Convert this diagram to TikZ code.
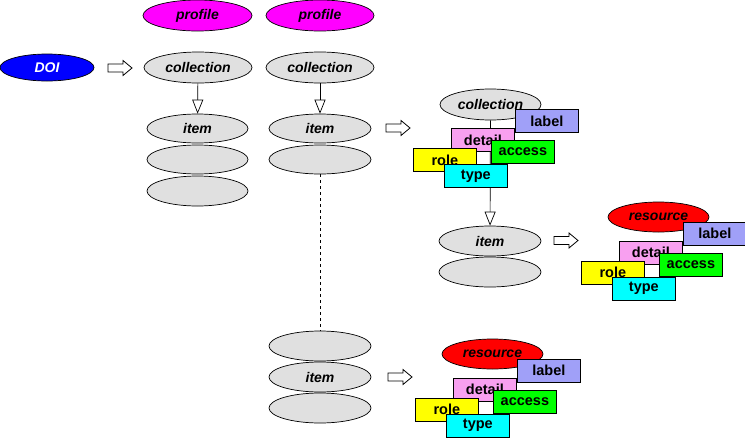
\documentclass[tikz,border=0pt]{standalone}
\usepackage{fontspec}
\setmainfont{Liberation Sans}
\usetikzlibrary{shapes.geometric,arrows.meta}
\definecolor{ellgrey}{RGB}{224,224,224}
\definecolor{lbl}{RGB}{160,160,248}
\definecolor{dtl}{RGB}{248,160,240}
\definecolor{mymag}{RGB}{255,0,255}
\definecolor{mycyan}{RGB}{0,255,255}
\definecolor{myblue}{RGB}{0,0,255}
\definecolor{myred}{RGB}{255,0,0}
\definecolor{mygreen}{RGB}{0,255,0}
\definecolor{myyellow}{RGB}{255,255,0}
\tikzset{
  ell/.style={ellipse, draw, line width=0.7pt, inner sep=0pt, minimum width=102pt, minimum height=30pt,
    font=\fontsize{14}{16}\selectfont\bfseries\itshape},
  grey/.style={ell, fill=ellgrey},
  attr/.style={rectangle, draw, line width=0.8pt, minimum width=63pt, minimum height=23pt, inner sep=0pt,
    anchor=north west, font=\fontsize{14.5}{16}\selectfont\bfseries},
  flow/.style={draw, line width=0.7pt, -{Triangle[length=14pt,width=11pt,fill=white]}},
  blk/.style={draw, fill=white, line width=0.8pt, line join=miter},
}
\newcommand\blkarrow[2]{%
  \begin{scope}[shift={(#1,#2)}]
    \draw[blk] (0,-4) -- (15,-4) -- (15,-7.5) -- (24,0) -- (15,7.5) -- (15,4) -- (0,4) -- cycle;
  \end{scope}}
\newcommand\attrs[3]{%
  \node[attr, fill=lbl] (#1label) at (#2+24.5,#3+4.5) {label};
  \node[attr, fill=dtl] (#1detail) at (#2-39.5,#3+23.5) {detail};
  \node[attr, fill=mygreen] (#1access) at (#2+0.5,#3+35.5) {access};
  \node[attr, fill=myyellow] (#1role) at (#2-77.5,#3+43.5) {role};
  \node[attr, fill=mycyan] (#1type) at (#2-46.5,#3+59.5) {type};}
\begin{document}
\begin{tikzpicture}[x=1pt, y=-1pt]
\useasboundingbox (0,0) rectangle (745,437);
% profiles
\node[ell, fill=mymag, minimum width=109pt, minimum height=31pt] (prof1) at (197.5,15.5) {profile};
\node[ell, fill=mymag, minimum width=108pt, minimum height=31pt] (prof2) at (320,15.5) {profile};
% DOI
\node[ell, fill=myblue, text=white, minimum width=94pt, minimum height=27pt] (doi) at (47,67.5) {DOI};
\blkarrow{108}{68}
% column 1
\node[grey, minimum width=108pt, minimum height=31pt] (coll1) at (198,67.5) {collection};
\node[grey, minimum width=101pt, minimum height=29pt] (item1) at (197.5,128.5) {item};
\node[grey, minimum width=101pt, minimum height=29pt] (e1b) at (197.5,159.5) {};
\node[grey, minimum width=101pt, minimum height=30pt] (e1c) at (197.5,191) {};
\draw[flow] (coll1) -- (item1);
% column 2
\node[grey, minimum width=108pt, minimum height=31pt] (coll2) at (320,67.5) {collection};
\node[grey, minimum width=102pt, minimum height=29pt] (item2) at (320,128.5) {item};
\node[grey, minimum width=102pt, minimum height=29pt] (e2b) at (320,159.5) {};
\draw[flow] (coll2) -- (item2);
\node[grey] (e3a) at (320,346) {};
\node[grey] (item3) at (320,377) {item};
\node[grey] (e3c) at (320,408) {};
\draw[line width=0.7pt, dash pattern=on 3pt off 3pt] (e2b.south) -- (e3a.north);
\blkarrow{386}{128}
\blkarrow{388}{377}
% right upper group
\node[grey, minimum width=101pt, minimum height=31pt] (gcoll) at (490.5,104.5) {collection};
\node[grey] (gitem) at (490,241) {item};
\node[grey] (gitemb) at (490,272) {};
\draw[flow] (gcoll) -- (gitem);
\attrs{a}{490.5}{104.5}
\blkarrow{554}{240.5}
% resource groups
\node[ell, fill=myred, minimum width=101pt, minimum height=30pt] (res1) at (658.5,217) {resource};
\attrs{b}{658.5}{217}
\node[ell, fill=myred, minimum width=101pt, minimum height=30pt] (res2) at (492.5,354) {resource};
\attrs{c}{492.5}{354}
\end{tikzpicture}
\end{document}
